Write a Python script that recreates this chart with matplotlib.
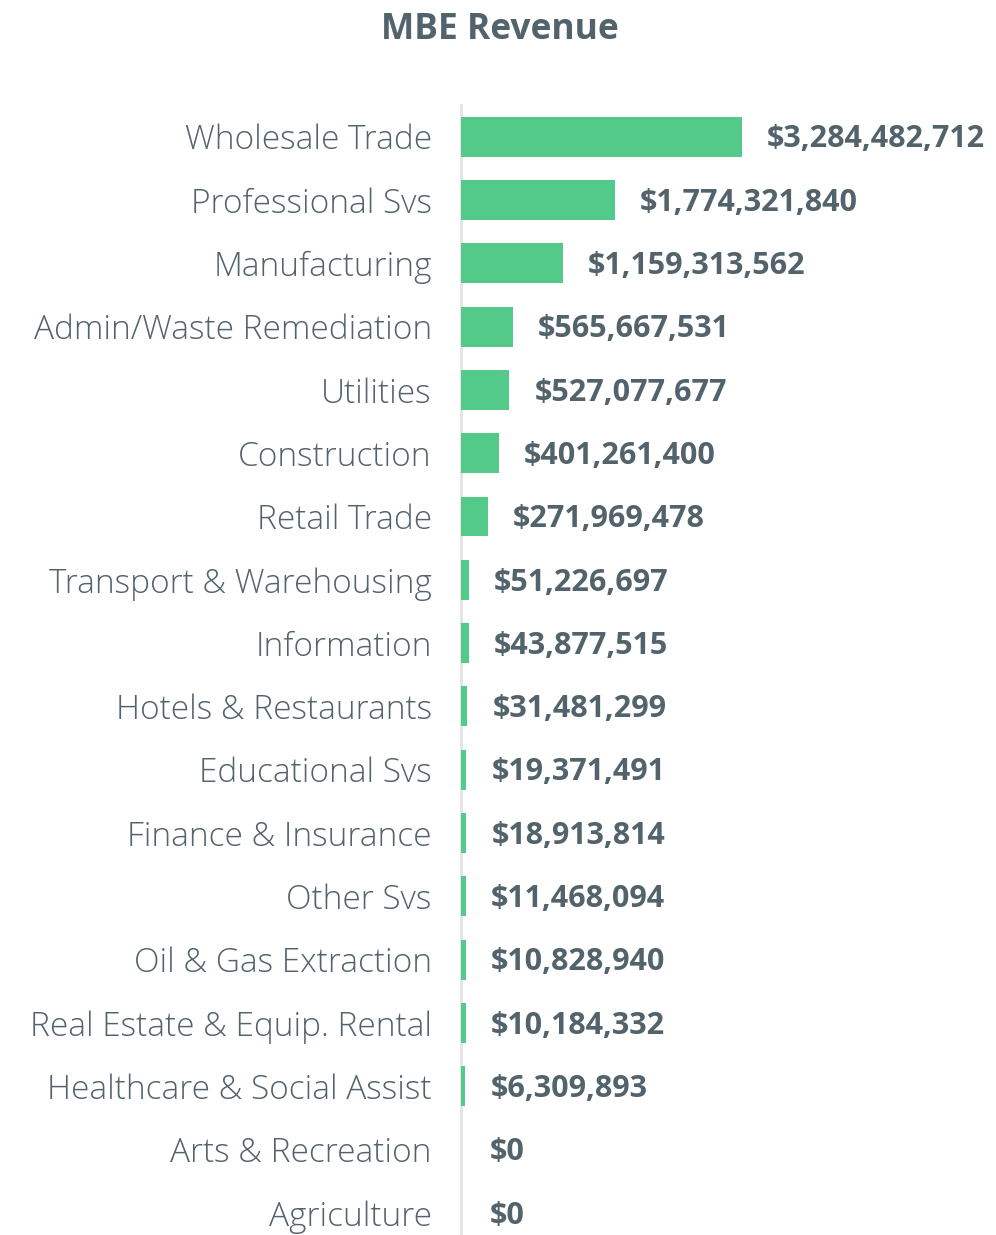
import numpy as np
import matplotlib
matplotlib.use('Agg')
import matplotlib.pyplot as plt

categories = ['Wholesale Trade', 'Professional Svs', 'Manufacturing', 'Admin/Waste Remediation',
              'Utilities', 'Construction', 'Retail Trade', 'Transport & Warehousing',
              'Information', 'Hotels & Restaurants', 'Educational Svs', 'Finance & Insurance',
              'Other Svs', 'Oil & Gas Extraction', 'Real Estate & Equip. Rental',
              'Healthcare & Social Assist', 'Arts & Recreation', 'Agriculture']
revenue = [3284482712, 1774321840, 1159313562, 565667531, 527077677, 401261400,
           271969478, 51226697, 43877515, 31481299, 19371491, 18913814, 11468094,
           10828940, 10184332, 6309893, 0, 0]

GREEN = '#53c98a'
TEXT = '#52636c'
SLIVER = 45e6  # min visible bar so tiny values still show

def main():
    vals = np.array(revenue, dtype=float)
    anchor = vals + SLIVER
    widths = np.where(vals > 0, anchor, 0)
    y = np.arange(len(categories))

    fig = plt.figure(figsize=(9.96, 12.35), dpi=100)
    W, H = 996, 1235
    ax = fig.add_axes([461 / W, 0, (W - 461) / W, 1 - 105 / H])
    ax.barh(y, widths, height=0.63, color=GREEN, left=0, zorder=3)
    ax.set_xlim(0, (vals.max() + SLIVER) / 281 * (W - 461))
    ax.set_ylim(17.35, -0.5)

    for s in ['top', 'right', 'bottom']:
        ax.spines[s].set_visible(False)
    ax.spines['left'].set_color('#e3e3e3')
    ax.spines['left'].set_linewidth(2)
    ax.spines['left'].set_zorder(1)
    ax.set_xticks([])
    ax.set_yticks(y)
    ax.set_yticklabels(categories, fontsize=24, color=TEXT, fontfamily='Open Sans', fontweight='light')
    ax.tick_params(axis='y', length=0, pad=21)

    for yi, a, v in zip(y, anchor, vals):
        ax.annotate('${:,.0f}'.format(v), (a, yi), xytext=(18, -2), textcoords='offset points',
                    ha='left', va='center', fontsize=22, fontweight='bold', color=TEXT,
                    fontfamily='Open Sans')

    fig.text(0.502, 1 - 30 / H, 'MBE Revenue', ha='center', va='center', fontsize=25.5,
             fontweight='bold', color=TEXT, fontfamily='Open Sans')
    fig.savefig('out.png', dpi=100)

if __name__ == '__main__':
    main()
